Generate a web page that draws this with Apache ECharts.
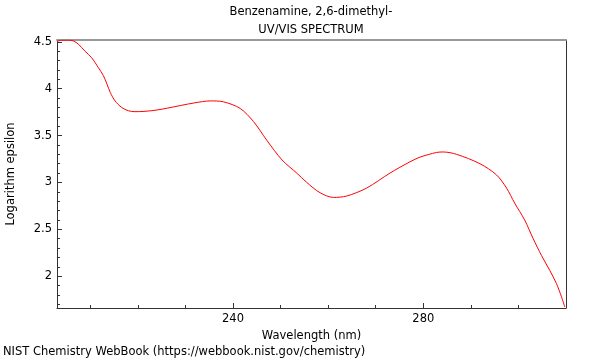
<!DOCTYPE html>
<html>
<head>
<meta charset="utf-8">
<script src="https://cdn.jsdelivr.net/npm/echarts@6/dist/echarts.min.js"></script>
<style>html,body{margin:0;padding:0;background:#fff}#c{width:600px;height:360px}</style>
</head>
<body>
<div id="c"></div>
<script>
var wavelength = [203.0, 204.0, 205.4, 206.45, 207.5, 208.9, 210.3, 211.7, 212.75, 213.5, 214.2, 215.2, 216.6, 218.0, 219.4, 223.6, 228.9, 232.0, 235.2, 238.0, 241.5, 244.3, 247.1, 250.3, 253.4, 255.5, 258.3, 261.1, 263.9, 268.1, 273.0, 277.2, 279.3, 282.8, 284.2, 287.0, 291.9, 295.4, 297.5, 299.2, 301.3, 303.1, 304.85, 306.6, 308.0, 309.05, 309.75];
var logEpsilon = [4.507, 4.517, 4.518, 4.51, 4.475, 4.40, 4.33, 4.225, 4.14, 4.05, 3.96, 3.87, 3.80, 3.765, 3.755, 3.77, 3.82, 3.85, 3.87, 3.86, 3.79, 3.65, 3.45, 3.24, 3.10, 3.00, 2.89, 2.84, 2.855, 2.94, 3.10, 3.22, 3.27, 3.32, 3.325, 3.30, 3.20, 3.08, 2.94, 2.78, 2.60, 2.40, 2.22, 2.06, 1.92, 1.78, 1.67];
var xMajorTicks = [240, 280];
var xMinorTicks = [210, 220, 230, 240, 250, 260, 270, 280, 290, 300, 310];
var yMajorTicks = [2, 2.5, 3, 3.5, 4, 4.5];
var yMinorTicks = [1.7, 1.8, 1.9, 2.0, 2.1, 2.2, 2.3, 2.4, 2.5, 2.6, 2.7, 2.8, 2.9, 3.0, 3.1, 3.2, 3.3, 3.4, 3.5, 3.6, 3.7, 3.8, 3.9, 4.0, 4.1, 4.2, 4.3, 4.4, 4.5];
var xMin = 203, xMax = 310, yMin = 1.66, yMax = 4.52;

var font = 'DejaVu Sans';
var fs = 11.5;
var axisColor = '#333';
var data = wavelength.map(function (w, i) { return [w, logEpsilon[i]]; });

var chart = echarts.init(document.getElementById('c'));
chart.setOption({
  animation: false,
  textStyle: { fontFamily: font },
  title: {
    text: 'Benzenamine, 2,6-dimethyl-\nUV/VIS SPECTRUM',
    left: 311, top: 3, textAlign: 'center', padding: 0,
    textStyle: { fontFamily: font, fontSize: fs, fontWeight: 'normal', color: '#000', lineHeight: 18 }
  },
  graphic: [{
    type: 'text', left: 3, top: 346,
    style: { text: 'NIST Chemistry WebBook (https://webbook.nist.gov/chemistry)', font: fs + 'px "DejaVu Sans"', fill: '#000' }
  }],
  grid: { left: 57, right: 34, top: 40, bottom: 52, containLabel: false, outerBoundsMode: 'none' },
  xAxis: [
    { type: 'value', min: xMin, max: xMax, position: 'bottom',
      axisLine: { lineStyle: { color: axisColor, width: 1 } },
      axisTick: { show: true, inside: true, length: 3, customValues: xMinorTicks, lineStyle: { color: axisColor } },
      axisLabel: { show: false }, splitLine: { show: false } },
    { type: 'value', min: xMin, max: xMax, position: 'bottom',
      axisLine: { show: false },
      axisTick: { show: true, inside: true, length: 5, customValues: xMajorTicks, lineStyle: { color: axisColor } },
      axisLabel: { show: true, customValues: xMajorTicks, color: '#000', fontSize: fs, fontFamily: font, margin: 5 },
      name: 'Wavelength (nm)', nameLocation: 'middle', nameGap: 21,
      nameTextStyle: { color: '#000', fontSize: fs, fontFamily: font },
      splitLine: { show: false } },
    { type: 'value', min: xMin, max: xMax, position: 'top',
      axisLine: { lineStyle: { color: '#999', width: 2 } },
      axisTick: { show: false }, axisLabel: { show: false }, splitLine: { show: false } }
  ],
  yAxis: [
    { type: 'value', min: yMin, max: yMax, position: 'left',
      axisLine: { show: true, lineStyle: { color: axisColor, width: 1 } },
      axisTick: { show: true, inside: true, length: 3, customValues: yMinorTicks, lineStyle: { color: axisColor } },
      axisLabel: { show: false }, splitLine: { show: false } },
    { type: 'value', min: yMin, max: yMax, position: 'left',
      axisLine: { show: false },
      axisTick: { show: true, inside: true, length: 5, customValues: yMajorTicks, lineStyle: { color: axisColor } },
      axisLabel: { show: true, customValues: yMajorTicks, color: '#000', fontSize: fs, fontFamily: font, margin: 5 },
      name: 'Logarithm epsilon', nameLocation: 'middle', nameGap: 40, nameRotate: 90,
      nameTextStyle: { color: '#000', fontSize: fs, fontFamily: font },
      splitLine: { show: false } },
    { type: 'value', min: yMin, max: yMax, position: 'right',
      axisLine: { show: true, lineStyle: { color: axisColor, width: 1 } },
      axisTick: { show: false }, axisLabel: { show: false }, splitLine: { show: false } }
  ],
  series: [{
    type: 'line', data: data, xAxisIndex: 0, yAxisIndex: 0,
    smooth: 0.3, showSymbol: false, symbol: 'none',
    lineStyle: { color: '#ff0000', width: 1 }
  }]
});
</script>
</body>
</html>
